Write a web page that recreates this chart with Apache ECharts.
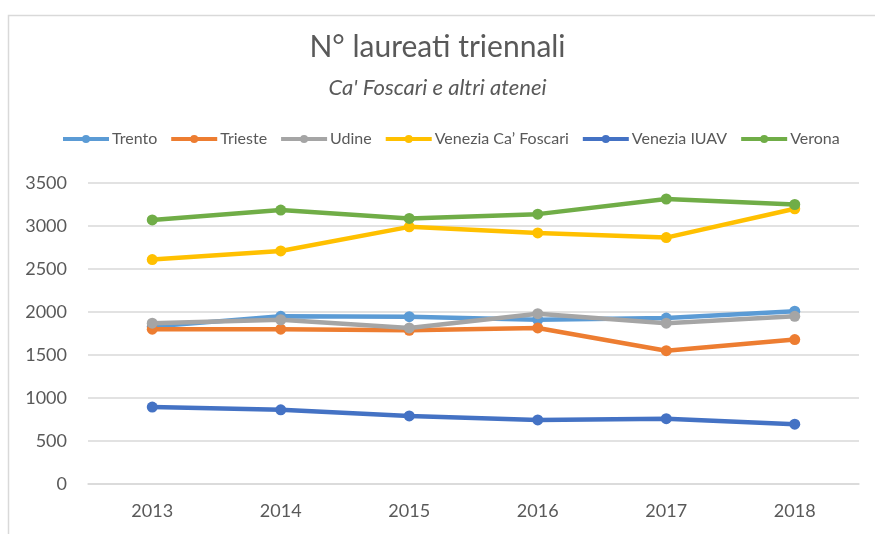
<!DOCTYPE html>
<html>
<head>
<meta charset="utf-8">
<script src="https://cdn.jsdelivr.net/npm/echarts@6/dist/echarts.min.js"></script>
<style>html,body{margin:0;padding:0;background:#fff}#c{width:875px;height:534px}</style>
</head>
<body>
<div id="c"></div>
<script>
const years = ['2013','2014','2015','2016','2017','2018'];
const seriesNames = ['Trento','Trieste','Udine','Venezia Ca\u2019 Foscari','Venezia IUAV','Verona'];
const trento = [1830, 1950, 1945, 1910, 1930, 2010];
const trieste = [1800, 1800, 1787, 1815, 1550, 1680];
const udine = [1870, 1910, 1815, 1980, 1870, 1950];
const caFoscari = [2610, 2710, 2990, 2920, 2865, 3200];
const iuav = [895, 862, 792, 745, 760, 695];
const verona = [3070, 3185, 3088, 3138, 3314, 3250];
const yTicks = [0, 500, 1000, 1500, 2000, 2500, 3000, 3500];
const colors = ['#5B9BD5','#ED7D31','#A5A5A5','#FFC000','#4472C4','#70AD47'];
const allData = [trento, trieste, udine, caFoscari, iuav, verona];
const font = 'Lato, "Open Sans", sans-serif';

const chart = echarts.init(document.getElementById('c'), null, {renderer:'canvas'});
chart.setOption({
  animation: false,
  backgroundColor: '#fff',
  color: colors,
  textStyle: {fontFamily: font},
  graphic: [{
    type: 'rect', left: 6, top: 13, silent: true,
    shape: {width: 900, height: 600},
    style: {fill: 'none', stroke: '#d9d9d9', lineWidth: 1.5}
  }],
  title: [{
    text: 'N\u00b0 laureati triennali',
    left: 'center', top: 32, padding: [0, 0, 0, 17],
    textStyle: {fontSize: 30, fontWeight: 'normal', color: '#595959', fontFamily: font}
  }, {
    text: "Ca' Foscari e altri atenei",
    left: 'center', top: 77, padding: [0, 0, 0, 17],
    textStyle: {fontSize: 22, fontWeight: 'normal', fontStyle: 'italic', color: '#595959', fontFamily: font}
  }],
  legend: {
    data: seriesNames,
    left: 56, top: 126,
    itemWidth: 46, itemHeight: 10, itemGap: 12,
    lineStyle: {width: 4},
    textStyle: {fontSize: 16, color: '#595959', fontFamily: font, padding: [0,0,0,-2]}
  },
  grid: {left: 88, right: 16, top: 183, bottom: 50, containLabel: false},
  xAxis: {
    type: 'category', data: years, boundaryGap: true,
    axisLine: {lineStyle: {color: '#d9d9d9', width: 1.5}},
    axisTick: {show: false},
    axisLabel: {fontSize: 18, color: '#595959', margin: 18, fontFamily: font}
  },
  yAxis: {
    type: 'value', min: yTicks[0], max: yTicks[yTicks.length-1], interval: 500,
    axisLine: {show: false}, axisTick: {show: false},
    splitLine: {lineStyle: {color: '#d9d9d9', width: 1.5}},
    axisLabel: {fontSize: 18, color: '#595959', margin: 21, fontFamily: font, formatter: v => String(v)}
  },
  series: seriesNames.map((n, i) => ({
    name: n, type: 'line', data: allData[i],
    symbol: 'circle', symbolSize: 11,
    lineStyle: {width: 4.5, color: colors[i]},
    itemStyle: {color: colors[i]},
    z: 2 + i
  }))
});
</script>
</body>
</html>
